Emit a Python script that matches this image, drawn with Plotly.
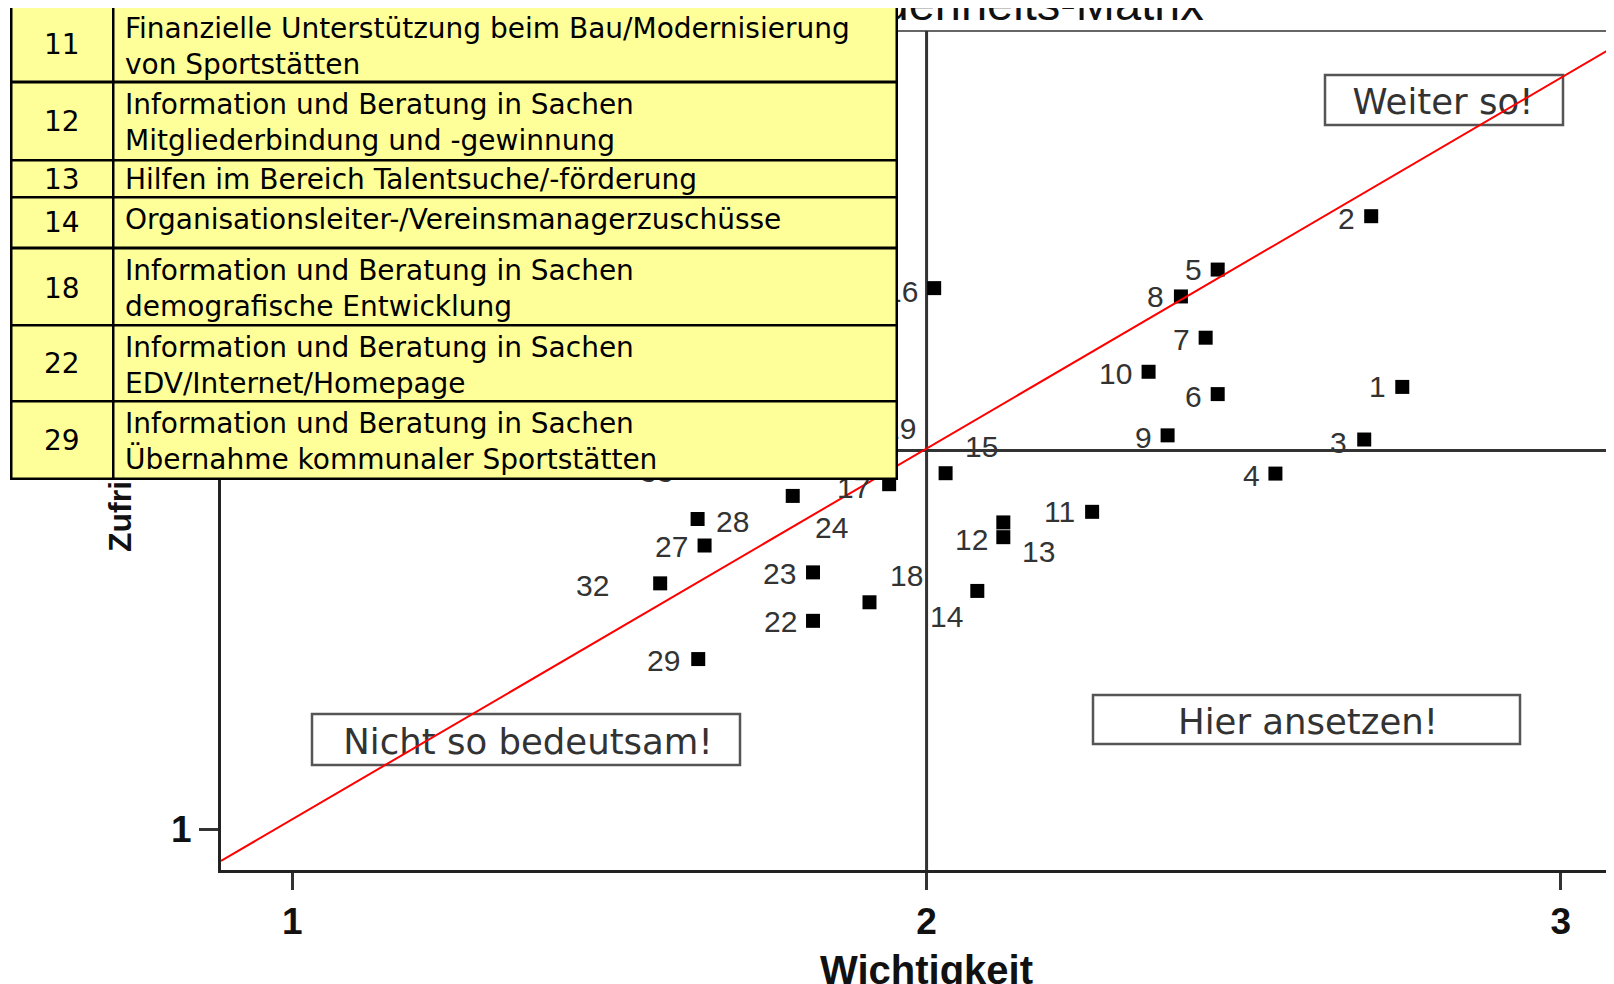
import plotly.graph_objects as go

# ---------------- data ----------------
item_ids = ["1", "2", "3", "4", "5", "6", "7", "8", "9", "10", "11", "12", "13", "14",
            "15", "16", "17", "18", "19", "22", "23", "24", "27", "28", "29", "32", "33"]
wichtigkeit = [2.750, 2.701, 2.690, 2.550, 2.459, 2.459, 2.440, 2.401, 2.380, 2.350,
               2.261, 2.121, 2.121, 2.080, 2.030, 2.012, 1.941, 1.910, 1.905, 1.821,
               1.821, 1.789, 1.650, 1.639, 1.640, 1.580, 1.627]
zufriedenheit = [2.168, 2.619, 2.029, 1.939, 2.478, 2.149, 2.298, 2.407, 2.040, 2.208,
                 1.838, 1.771, 1.810, 1.629, 1.940, 2.429, 1.911, 1.599, 2.057, 1.550,
                 1.678, 1.880, 1.749, 1.819, 1.449, 1.649, 1.949]

ref_line_x = [0.8876, 3.0838]
ref_line_y = [0.9155, 3.0668]
mean_wichtigkeit = 2.0
mean_zufriedenheit = 2.0

x_tick_vals = [1, 2, 3]
y_tick_vals = [1, 2, 3]

legend_ids = ["11", "12", "13", "14", "18", "22", "29"]
legend_texts = [
    "Finanzielle Unterstützung beim Bau/Modernisierung<br>von Sportstätten",
    "Information und Beratung in Sachen<br>Mitgliederbindung und -gewinnung",
    "Hilfen im Bereich Talentsuche/-förderung",
    "Organisationsleiter-/Vereinsmanagerzuschüsse",
    "Information und Beratung in Sachen<br>demografische Entwicklung",
    "Information und Beratung in Sachen<br>EDV/Internet/Homepage",
    "Information und Beratung in Sachen<br>Übernahme kommunaler Sportstätten",
]
quadrant_texts = ["Weiter so!", "Hier ansetzen!", "Nicht so bedeutsam!"]

title_text = "Wichtigkeits-Zufriedenheits-Matrix"
x_title = "Wichtigkeit"
y_title = "Zufriedenheit"

# ---------------- layout geometry ----------------
# page pixel positions are given relative to the browser window; the page
# body has an 8px margin, so the figure itself starts at (8, 8).
OFF = 8
W, H = 1614 - OFF, 984 - OFF
PLOT_L, PLOT_R, PLOT_T, PLOT_B = 221, 1614, 31, 870   # page pixels
L, T = PLOT_L - OFF, PLOT_T - OFF
R = W - (PLOT_R - OFF)
B = H - (PLOT_B - OFF)
PW, PH = W - L - R, H - T - B
XR = [0.8876, 3.0838]
YR = [0.8917, 3.1083]


def pxx(p):  # page pixel x -> paper
    return (p - PLOT_L) / PW


def pxy(p):  # page pixel y -> paper
    return (PLOT_B - p) / PH


def dx(p):  # page pixel x -> data
    return XR[0] + (p - PLOT_L) / PW * (XR[1] - XR[0])


def dy(p):  # page pixel y -> data
    return YR[0] + (PLOT_B - p) / PH * (YR[1] - YR[0])


# label offsets in pixels (dx right, dy down)
label_off = {
    "1": (-25, 0), "2": (-25, 2), "3": (-26, 3), "4": (-24, 2), "5": (-24, 0),
    "6": (-24, 2), "7": (-24, 2), "8": (-25, 0), "9": (-24, 2), "10": (-33, 2),
    "11": (-33, 0), "12": (-32, 2), "13": (35, 29), "14": (-31, 26), "15": (36, -27),
    "16": (-33, 3), "17": (-36, 3), "18": (37, -27), "19": (33, 0), "22": (-33, 1),
    "23": (-34, 1), "24": (39, 32), "27": (-33, 1), "28": (35, 2), "29": (-35, 1),
    "32": (-68, 2), "33": (-33, 2),
}

fig = go.Figure()

# quadrant label texts (drawn as trace so the red line lies above them)
quad_px = [(1443, 105), (1308, 725), (528, 745)]
fig.add_trace(go.Scatter(
    x=[dx(p[0]) for p in quad_px], y=[dy(p[1]) for p in quad_px],
    mode="text", text=quadrant_texts, textposition="middle center",
    textfont=dict(family="DejaVu Sans", size=35.5, color="#333333"),
    hoverinfo="skip", showlegend=False))

# points
fig.add_trace(go.Scatter(
    x=wichtigkeit, y=zufriedenheit, mode="markers",
    marker=dict(symbol="square", size=14, color="black"),
    showlegend=False))

# red reference line
fig.add_trace(go.Scatter(
    x=ref_line_x, y=ref_line_y, mode="lines",
    line=dict(color="#FF0000", width=2), showlegend=False, hoverinfo="skip"))

shapes = []
shapes.append(dict(type="line", xref="paper", yref="paper", x0=0, x1=1, y0=1, y1=1,
                   line=dict(color="#666666", width=2), layer="below"))
shapes.append(dict(type="line", xref="x", yref="paper", x0=mean_wichtigkeit, x1=mean_wichtigkeit,
                   y0=0, y1=1, line=dict(color="#333333", width=3), layer="below"))
shapes.append(dict(type="line", xref="paper", yref="y", x0=0, x1=1, y0=mean_zufriedenheit,
                   y1=mean_zufriedenheit, line=dict(color="#333333", width=3), layer="below"))
quad_boxes = [(1325, 75, 1563, 125), (1093, 695, 1520, 744), (312, 714, 740, 765)]
for (x0, y0, x1, y1) in quad_boxes:
    shapes.append(dict(type="rect", xref="paper", yref="paper",
                       x0=pxx(x0), x1=pxx(x1), y0=pxy(y1), y1=pxy(y0),
                       line=dict(color="#555555", width=2.5), fillcolor="rgba(0,0,0,0)",
                       layer="below"))

annotations = []
annotations.append(dict(text=title_text, xref="paper", yref="paper", x=pxx(850), y=pxy(4),
                        xanchor="center", yanchor="middle", showarrow=False,
                        font=dict(family="Liberation Sans", size=47, color="#111111")))
annotations.append(dict(text=y_title, xref="paper", yref="paper", x=pxx(120), y=pxy(450),
                        xanchor="center", yanchor="middle", showarrow=False, textangle=-90,
                        font=dict(family="Liberation Sans", size=32, color="#111111", weight="bold")))
annotations.append(dict(text=x_title, xref="paper", yref="paper", x=pxx(926), y=pxy(970),
                        xanchor="center", yanchor="middle", showarrow=False,
                        font=dict(family="Liberation Sans", size=40, color="#111111", weight="bold")))
for pid, xv, yv in zip(item_ids, wichtigkeit, zufriedenheit):
    ox, oy = label_off[pid]
    annotations.append(dict(text=pid, xref="x", yref="y", x=xv, y=yv, xshift=ox, yshift=-oy,
                            xanchor="center", yanchor="middle", showarrow=False,
                            font=dict(family="Liberation Sans", size=30, color="#333333")))

# table boxes (drawn after the labels so they cover them)
row_edges = [5.5, 82, 160, 197.5, 248, 325, 401.5, 479]
col_edges = [11, 113, 896]
bw = 2.5
for i in range(len(legend_ids)):
    y0, y1 = row_edges[i], row_edges[i + 1]
    for j in range(2):
        x0, x1 = col_edges[j], col_edges[j + 1]
        annotations.append(dict(
            text=" ", xref="paper", yref="paper",
            x=pxx(x0 - bw / 2), y=pxy(y0 - bw / 2), xanchor="left", yanchor="top",
            width=(x1 - x0) - bw, height=(y1 - y0) - bw,
            bgcolor="#FFFF99", bordercolor="#000000", borderwidth=bw, borderpad=0,
            showarrow=False, font=dict(size=10)))

num_centers = [45, 121.5, 180, 222, 288, 363, 440.5]
text_centers = [46.7, 122, 180, 219, 288, 365.5, 442]
for i in range(len(legend_ids)):
    annotations.append(dict(text=legend_ids[i], xref="paper", yref="paper",
                            x=pxx(62), y=pxy(num_centers[i]), xanchor="center", yanchor="middle",
                            showarrow=False,
                            font=dict(family="DejaVu Sans", size=28, color="#000000")))
    annotations.append(dict(text=legend_texts[i], xref="paper", yref="paper",
                            x=pxx(123), y=pxy(text_centers[i]), xanchor="left", yanchor="middle",
                            align="left", showarrow=False,
                            font=dict(family="DejaVu Sans", size=28, color="#000000")))

axis_font = dict(family="Liberation Sans", size=37, color="#111111", weight="bold")
fig.update_layout(
    width=W, height=H,
    margin=dict(l=L, r=R, t=T, b=B, autoexpand=False),
    paper_bgcolor="white", plot_bgcolor="white",
    showlegend=False,
    xaxis=dict(range=XR, tickvals=x_tick_vals, ticktext=[str(v) for v in x_tick_vals],
               showgrid=False, zeroline=False, showline=True, linecolor="#222222", linewidth=3,
               ticks="outside", ticklen=17, tickwidth=3, tickcolor="#333333",
               tickfont=axis_font, ticklabelstandoff=0),
    yaxis=dict(range=YR, tickvals=y_tick_vals, ticktext=[str(v) for v in y_tick_vals],
               showgrid=False, zeroline=False, showline=True, linecolor="#222222", linewidth=3,
               ticks="outside", ticklen=19, tickwidth=3, tickcolor="#333333",
               tickfont=axis_font, ticklabelstandoff=0),
    shapes=shapes,
    annotations=annotations,
)

fig.write_html("out.html")
